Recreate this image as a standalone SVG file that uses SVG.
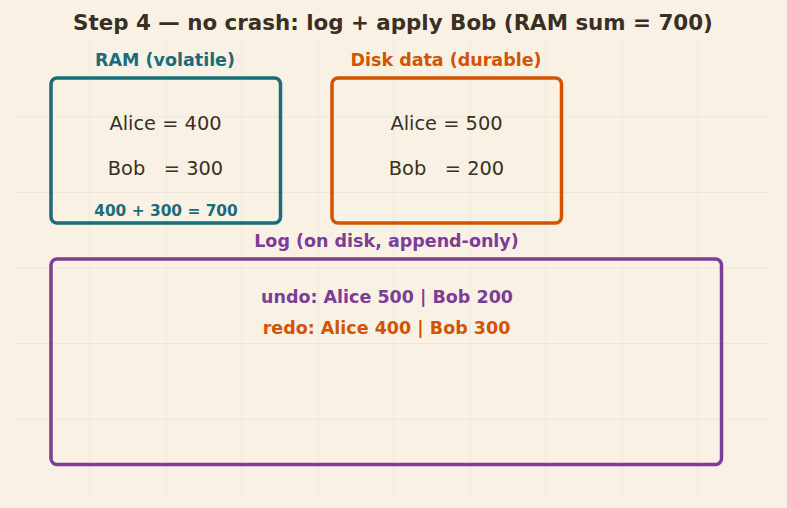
<svg xmlns="http://www.w3.org/2000/svg" width="787" height="508" viewBox="0 0 787 508">
  <style>
    .bg { fill: #f9f2e4; }
    .grid line { stroke: #efe7d5; stroke-width: 1; }
    .box { fill: none; stroke-width: 3.5; }
    .t { font-family: "DejaVu Sans", Verdana, sans-serif; text-anchor: middle; }
    .title { font-size: 21.4px; font-weight: bold; fill: #3a2f25; }
    .lbl { font-size: 17.5px; font-weight: bold; }
    .val { font-size: 19.4px; fill: #3a2f25; white-space: pre; }
    .sum { font-size: 15.4px; font-weight: bold; fill: #1b6b78; }
    .teal { fill: #1b6b78; }
    .orange { fill: #d35400; }
    .purple { fill: #7d3c98; }
  </style>
  <rect class="bg" x="0" y="0" width="787" height="508"/>
  <g class="grid">
    <line x1="90" y1="43" x2="90" y2="495"/>
    <line x1="166" y1="43" x2="166" y2="495"/>
    <line x1="242" y1="43" x2="242" y2="495"/>
    <line x1="318" y1="43" x2="318" y2="495"/>
    <line x1="394" y1="43" x2="394" y2="495"/>
    <line x1="470" y1="43" x2="470" y2="495"/>
    <line x1="546" y1="43" x2="546" y2="495"/>
    <line x1="622" y1="43" x2="622" y2="495"/>
    <line x1="698" y1="43" x2="698" y2="495"/>
    <line x1="15" y1="117" x2="770" y2="117"/>
    <line x1="15" y1="192.5" x2="770" y2="192.5"/>
    <line x1="15" y1="268" x2="770" y2="268"/>
    <line x1="15" y1="343.5" x2="770" y2="343.5"/>
    <line x1="15" y1="419" x2="770" y2="419"/>
  </g>
  <text class="t title" x="393" y="30">Step 4 — no crash: log + apply Bob (RAM sum = 700)</text>
  <g id="connectors"></g>
  <g id="ram">
    <text class="t lbl teal" x="165" y="66">RAM (volatile)</text>
    <rect class="box" x="51" y="78" width="229.5" height="145" rx="6" stroke="#1b6b78"/>
    <text class="t val" x="165.5" y="130" xml:space="preserve">Alice = 400</text>
    <text class="t val" x="165.5" y="175" xml:space="preserve">Bob   = 300</text>
    <text class="t sum" x="166" y="216">400 + 300 = 700</text>
  </g>
  <g id="disk">
    <text class="t lbl orange" x="446" y="66">Disk data (durable)</text>
    <rect class="box" x="332" y="78" width="229.5" height="145" rx="6" stroke="#d35400"/>
    <text class="t val" x="446.5" y="130" xml:space="preserve">Alice = 500</text>
    <text class="t val" x="446.5" y="175" xml:space="preserve">Bob   = 200</text>
  </g>
  <g id="log">
    <text class="t lbl purple" x="386.5" y="247">Log (on disk, append-only)</text>
    <rect class="box" x="51" y="259" width="670.5" height="205.5" rx="6" stroke="#7d3c98"/>
    <text class="t lbl purple" x="387" y="303">undo: Alice 500 | Bob 200</text>
    <text class="t lbl orange" x="386.5" y="334">redo: Alice 400 | Bob 300</text>
  </g>
</svg>
